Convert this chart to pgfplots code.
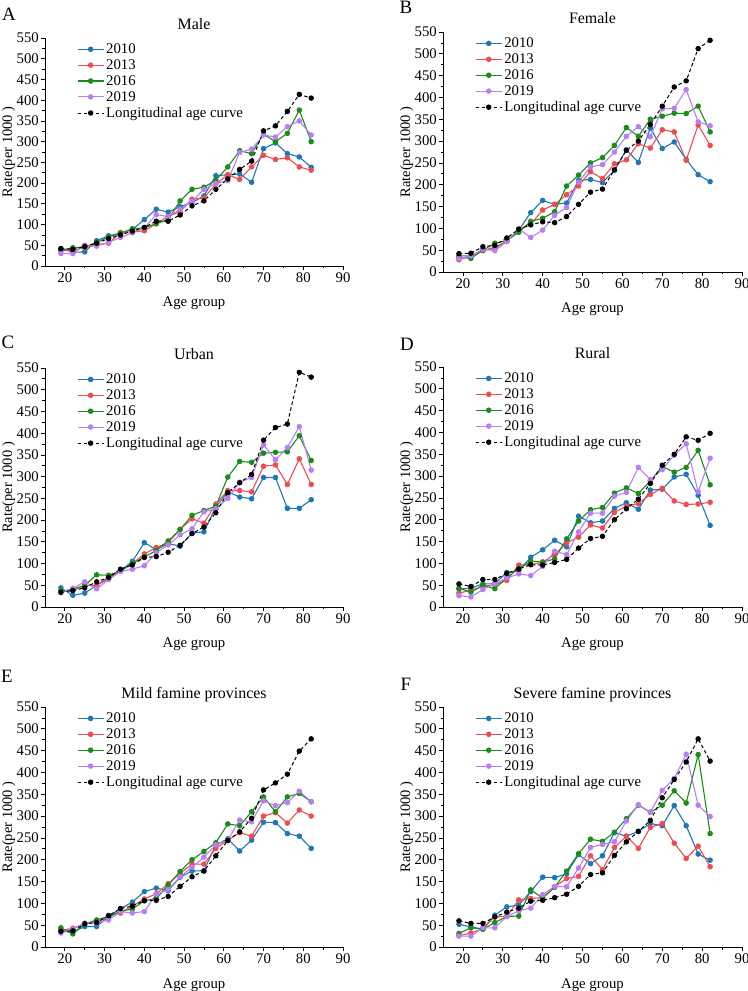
\documentclass[border=0pt]{standalone}
\usepackage{pgfplots}
\pgfplotsset{compat=1.18}
\usepackage{pgfplotstable}
\usepackage{fontspec}
\setmainfont{Liberation Serif}
\definecolor{c10}{RGB}{31,119,180}
\definecolor{c13}{RGB}{240,75,80}
\definecolor{c16}{RGB}{26,140,26}
\definecolor{c19}{RGB}{185,125,245}

\pgfplotstableread{
age a b c d lon
19 42 37 38 30 42
22 33 38 44 30 40
25 34 44 46 50 47
28 61 52 57 48 55
31 73 55 70 57 66
34 79 81 79 69 75
37 88 82 90 80 84
40 112 85 92 92 93
43 137 102 102 124 108
46 130 120 112 119 108
49 143 131 157 137 123
52 153 161 185 156 145
55 169 164 190 185 157
58 218 198 207 199 185
61 220 220 239 206 210
64 222 209 278 274 233
67 202 239 271 282 253
70 283 267 318 316 326
73 297 257 300 311 338
76 271 261 320 336 373
79 263 239 376 350 414
82 238 231 300 316 405
}\tabA
\pgfplotstableread{
age a b c d lon
19 37 28 34 31 42
22 37 38 31 37 43
25 50 49 50 52 58
28 54 57 66 49 61
31 71 70 72 70 78
34 96 98 91 99 98
37 136 109 116 79 108
40 164 142 123 96 115
43 155 155 138 130 113
46 158 177 197 148 127
49 210 197 222 206 155
52 212 230 250 241 183
55 205 214 262 246 190
58 233 248 290 275 234
61 280 257 331 311 279
64 251 294 311 333 300
67 330 284 350 310 338
70 283 326 357 374 380
73 298 321 364 375 424
76 258 256 363 418 438
79 223 337 380 344 512
82 207 290 321 335 531
}\tabB
\pgfplotstableread{
age a b c d lon
19 44 35 37 33 34
22 27 42 38 43 38
25 32 49 50 58 44
28 50 50 74 42 58
31 65 69 73 63 68
34 84 83 83 82 87
37 105 100 100 87 97
40 148 122 115 95 114
43 132 137 130 125 116
46 146 148 152 143 126
49 140 179 178 166 142
52 170 203 211 180 169
55 173 193 222 219 184
58 230 237 232 226 217
61 265 268 299 250 263
64 253 268 335 287 286
67 249 265 333 298 305
70 298 324 354 373 384
73 298 327 356 339 413
76 227 282 357 367 421
79 227 341 394 415 540
82 247 282 337 315 529
}\tabC
\pgfplotstableread{
age a b c d lon
19 41 32 43 26 53
22 43 38 34 23 47
25 53 47 50 40 63
28 53 51 42 53 63
31 79 61 67 66 77
34 83 96 88 76 87
37 114 97 105 72 97
40 131 103 103 93 96
43 153 120 110 128 102
46 138 147 156 120 109
49 208 160 197 172 135
52 193 188 223 215 157
55 197 181 228 215 162
58 226 217 261 254 200
61 239 231 273 263 225
64 224 237 260 320 247
67 268 258 289 292 283
70 270 272 322 315 325
73 298 243 309 348 350
76 304 235 320 374 390
79 256 236 359 264 382
82 187 240 280 341 398
}\tabD
\pgfplotstableread{
age a b c d lon
19 36 38 44 32 36
22 34 43 30 41 37
25 47 54 53 55 53
28 47 56 62 55 56
31 70 70 70 62 72
34 88 78 82 81 88
37 103 94 87 78 94
40 127 110 106 81 106
43 135 122 111 121 107
46 129 145 142 131 116
49 160 169 173 161 139
52 174 190 200 183 161
55 175 190 219 206 174
58 234 226 239 234 209
61 248 245 282 245 244
64 220 262 278 291 264
67 245 254 310 287 295
70 286 300 344 335 360
73 285 308 310 324 376
76 260 284 344 331 396
79 254 314 352 357 449
82 226 300 333 333 477
}\tabE
\pgfplotstableread{
age a b c d lon
19 52 26 31 25 60
22 46 32 44 25 54
25 41 42 41 44 54
28 73 69 56 44 69
31 92 70 70 70 80
34 96 108 71 83 89
37 127 111 131 89 105
40 160 113 112 120 107
43 159 138 137 139 113
46 168 157 174 138 121
49 212 162 214 181 139
52 191 209 247 228 166
55 209 177 242 235 170
58 262 228 263 241 210
61 254 254 294 289 241
64 265 226 325 326 265
67 283 274 309 309 290
70 278 283 325 359 342
73 324 238 358 386 384
76 278 203 330 442 424
79 213 231 441 325 477
82 199 184 260 299 426
}\tabF

\pgfplotsset{
  panel/.style={
    scale only axis, anchor=south west,
    xmin=15, xmax=90, ymin=0, ymax=550,
    xtick={20,30,...,90}, ytick={0,50,...,550},
    minor x tick num=1, minor y tick num=1,
    axis lines=left, axis line style={-, line width=0.9pt},
    tick align=outside, major tick length=4bp, minor tick length=2.5bp,
    tick style={black, line width=0.8pt},
    /pgf/number format/assume math mode=true,
    tick label style={font=\fontsize{14.8}{17}\selectfont},
    yticklabel style={inner sep=2pt},
    xticklabel style={inner sep=2.5pt},
    label style={font=\fontsize{14.8}{17}\selectfont},
    title style={font=\fontsize{16}{18}\selectfont, at={(0.5,1)}, anchor=base, yshift=3bp},
    xlabel={Age group}, ylabel={Rate(per 1000 )},
    xlabel style={at={(axis description cs:0.5,0)}, anchor=base, yshift=-41bp},
    ylabel style={at={(axis description cs:-0.099,0.5)}, anchor=south, inner sep=0pt, font=\fontsize{14.5}{17}\selectfont},
    legend style={draw=none, fill=none, at={(0.107,0.985)}, anchor=north west,
      font=\fontsize{14.8}{17}\selectfont, row sep=0.6pt, inner sep=0pt},
    legend cell align=left,
    legend image code/.code={\draw[mark repeat=2, mark phase=2] plot coordinates {(0bp,0bp) (13bp,0bp) (26bp,0bp)};},
    clip=false,
  },
  s10/.style={c10, line width=1.1pt, mark=*, mark size=2.2bp},
  s13/.style={c13, line width=1.1pt, mark=*, mark size=2.2bp},
  s16/.style={c16, line width=1.1pt, mark=*, mark size=2.2bp},
  s19/.style={c19, line width=1.1pt, mark=*, mark size=2.2bp},
  slon/.style={black, line width=1pt, dash pattern=on 3.5bp off 2.5bp, mark=*, mark size=2.2bp, mark options={solid}},
}
\newcommand{\allplots}[1]{%
  \addplot[s10] table[x=age,y=a] {#1}; \addlegendentry{2010}
  \addplot[s13] table[x=age,y=b] {#1}; \addlegendentry{2013}
  \addplot[s16] table[x=age,y=c] {#1}; \addlegendentry{2016}
  \addplot[s19] table[x=age,y=d] {#1}; \addlegendentry{2019}
  \addplot[slon] table[x=age,y=lon] {#1}; \addlegendentry{Longitudinal age curve}
}

\begin{document}
\begin{tikzpicture}
\useasboundingbox (0,0) rectangle (748bp,991bp);
\begin{axis}[panel, at={(45bp,725bp)}, width=298bp, height=228bp, title={Male}]
\allplots{\tabA}
\end{axis}
\begin{axis}[panel, at={(443bp,719bp)}, width=299bp, height=240bp, title={Female}]
\allplots{\tabB}
\end{axis}
\begin{axis}[panel, at={(45bp,384bp)}, width=298bp, height=239bp, title={Urban}]
\allplots{\tabC}
\end{axis}
\begin{axis}[panel, at={(443bp,384bp)}, width=299bp, height=240bp, title={Rural}]
\allplots{\tabD}
\end{axis}
\begin{axis}[panel, at={(45bp,44bp)}, width=298bp, height=240bp, title={Mild famine provinces}]
\allplots{\tabE}
\end{axis}
\begin{axis}[panel, at={(443bp,44bp)}, width=299bp, height=240bp, title={Severe famine provinces}]
\allplots{\tabF}
\end{axis}
\begin{scope}[every node/.style={font=\fontsize{19}{22}\selectfont, inner sep=0pt}]
\node at (9bp,977bp) {A};
\node at (406bp,984bp) {B};
\node at (8bp,649bp) {C};
\node at (407bp,647bp) {D};
\node at (7bp,315bp) {E};
\node at (406bp,307bp) {F};
\end{scope}
\end{tikzpicture}
\end{document}
